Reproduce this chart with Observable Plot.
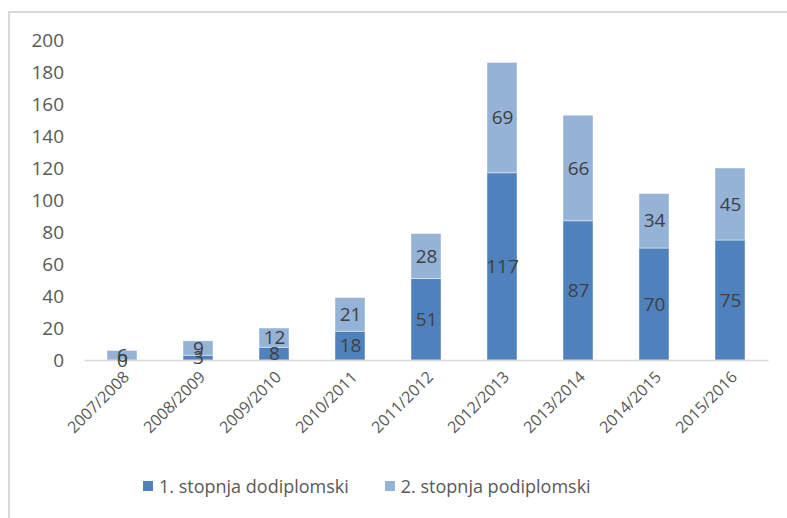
<!DOCTYPE html>
<html>
<head>
<meta charset="utf-8">
<script src="https://cdn.jsdelivr.net/npm/d3@7"></script>
<script src="https://cdn.jsdelivr.net/npm/@observablehq/plot@0.6"></script>
<style>
  html, body { margin: 0; padding: 0; background: #ffffff; }
  body { width: 787px; height: 518px; position: relative; overflow: hidden; font-family: "Open Sans", sans-serif; }
  #frame { position: absolute; left: 8px; top: 11px; width: 820px; height: 540px; border-top: 2px solid #d9d9d9; border-left: 2px solid #d9d9d9; pointer-events: none; }
  #chart { position: absolute; left: 0; top: 0; }
  #legend { position: absolute; left: 143px; top: 474px; display: flex; align-items: center; color: #595959; font-size: 18px; white-space: nowrap; }
  .sw { display: inline-block; width: 10px; height: 10px; margin-right: 6px; }
  .item { display: flex; align-items: center; margin-right: 36px; }
</style>
</head>
<body>
<div id="frame"></div>
<div id="chart"></div>
<div id="legend"></div>
<script>
const years = ["2007/2008","2008/2009","2009/2010","2010/2011","2011/2012","2012/2013","2013/2014","2014/2015","2015/2016"];
const series = ["1. stopnja dodiplomski", "2. stopnja podiplomski"];
const undergrad = [0, 3, 8, 18, 51, 117, 87, 70, 75];
const postgrad = [6, 9, 12, 21, 28, 69, 66, 34, 45];
const yTicks = [0, 20, 40, 60, 80, 100, 120, 140, 160, 180, 200];
const colors = ["#4f81bd", "#95b3d7"];

const data = [];
years.forEach((y, i) => {
  data.push({year: y, series: series[0], value: undergrad[i]});
  data.push({year: y, series: series[1], value: postgrad[i]});
});

const plot = Plot.plot({
  width: 787,
  height: 460,
  marginLeft: 84.5,
  marginRight: 18.5,
  marginTop: 40,
  marginBottom: 100,
  style: { fontFamily: "Open Sans, sans-serif", color: "#595959", background: "transparent" },
  x: { domain: years, paddingInner: 0.6, paddingOuter: 0.3, label: null },
  y: { domain: [0, 200], label: null },
  color: { domain: series, range: colors },
  marks: [
    Plot.axisY({ ticks: yTicks, tickSize: 0, tickPadding: 21, fontSize: 19, label: null, fill: "#595959" }),
    Plot.axisX({ tickSize: 0, tickRotate: -45, tickPadding: 14, fontSize: 16, label: null, fill: "#595959", dx: 4 }),
    Plot.barY(data, Plot.stackY({ x: "year", y: "value", z: "series", fill: "series", stroke: "#ffffff", strokeOpacity: 0.6, strokeWidth: 0.75 })),
    Plot.ruleY([0], { stroke: "#d9d9d9", strokeWidth: 1.5 }),
    Plot.text(data, Plot.stackY({ x: "year", y: "value", z: "series", text: d => String(d.value), fill: "#404040", fontSize: 19 }))
  ]
});
document.getElementById("chart").appendChild(plot);

const legend = document.getElementById("legend");
series.forEach((s, i) => {
  const item = document.createElement("div");
  item.className = "item";
  const sw = document.createElement("span");
  sw.className = "sw";
  sw.style.background = colors[i];
  const t = document.createElement("span");
  t.textContent = s;
  item.appendChild(sw);
  item.appendChild(t);
  legend.appendChild(item);
});
</script>
</body>
</html>
